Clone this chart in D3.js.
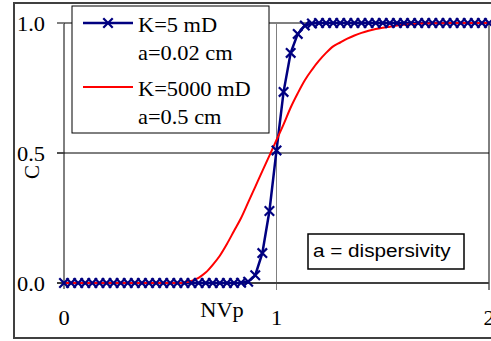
<!DOCTYPE html>
<html>
<head>
<meta charset="utf-8">
<script src="https://cdn.jsdelivr.net/npm/d3@7"></script>
<style>
  body { margin: 0; background: #fff; }
  svg { display: block; }
</style>
</head>
<body>
<div id="chart"></div>
<script>
// pore volumes injected, one point every 1/30 NVp
var nvp = [0, 0.0333, 0.0667, 0.1, 0.1333, 0.1667, 0.2, 0.2333, 0.2667, 0.3,
  0.3333, 0.3667, 0.4, 0.4333, 0.4667, 0.5, 0.5333, 0.5667, 0.6, 0.6333,
  0.6667, 0.7, 0.7333, 0.7667, 0.8, 0.8333, 0.8667, 0.9, 0.9333, 0.9667,
  1, 1.0333, 1.0667, 1.1, 1.1333, 1.1667, 1.2, 1.2333, 1.2667, 1.3,
  1.3333, 1.3667, 1.4, 1.4333, 1.4667, 1.5, 1.5333, 1.5667, 1.6, 1.6333,
  1.6667, 1.7, 1.7333, 1.7667, 1.8, 1.8333, 1.8667, 1.9, 1.9333, 1.9667, 2];

// K=5 mD, a=0.02 cm
var cLow = [0, 0, 0, 0, 0, 0, 0, 0, 0, 0,
  0, 0, 0, 0, 0, 0, 0, 0, 0, 0,
  0, 0, 0, 0, 0, 0.001, 0.005, 0.03, 0.115, 0.277,
  0.51, 0.735, 0.885, 0.958, 0.99, 0.998, 1, 1, 1, 1,
  1, 1, 1, 1, 1, 1, 1, 1, 1, 1,
  1, 1, 1, 1, 1, 1, 1, 1, 1, 1, 1];

// K=5000 mD, a=0.5 cm
var cHigh = [0, 0, 0, 0, 0, 0, 0, 0, 0, 0,
  0, 0, 0, 0, 0, 0, 0, 0.002, 0.008, 0.02,
  0.04, 0.07, 0.105, 0.15, 0.2, 0.25, 0.31, 0.37, 0.43, 0.49,
  0.55, 0.61, 0.675, 0.73, 0.78, 0.82, 0.855, 0.885, 0.91, 0.925,
  0.94, 0.952, 0.962, 0.97, 0.977, 0.982, 0.986, 0.99, 0.993, 0.995,
  0.997, 0.998, 0.999, 0.999, 1, 1, 1, 1, 1, 1, 1];

var xTicks = [0, 1, 2];
var yTicks = [0, 0.5, 1];
var legendLines = [["K=5 mD", "a=0.02 cm"], ["K=5000 mD", "a=0.5 cm"]];

var width = 491, height = 341;
var serif = "'Liberation Serif', 'Times New Roman', serif";
var sans = "'Liberation Sans', Arial, sans-serif";
var stretch = 1.12; // text in the picture is a bit wide

var svg = d3.select("#chart").append("svg")
    .attr("width", width)
    .attr("height", height);

// outer frame, cut off on the right
svg.append("rect")
    .attr("x", 14).attr("y", 3)
    .attr("width", 500).attr("height", 335)
    .attr("fill", "#fff")
    .attr("stroke", "#404040")
    .attr("stroke-width", 2);

var xScale = d3.scaleLinear().domain([0, 2]).range([64, 489]);
var yScale = d3.scaleLinear().domain([0, 1]).range([283, 23]);

function addText(x, y, str, font, size, anchor) {
  return svg.append("text")
      .attr("transform", "translate(" + x + "," + y + ") scale(" + stretch + ",1)")
      .attr("text-anchor", anchor || "start")
      .attr("font-family", font)
      .attr("font-size", size)
      .attr("fill", "#000")
      .text(str);
}

// grid
svg.append("line")
    .attr("x1", xScale(1)).attr("x2", xScale(1))
    .attr("y1", yScale(1)).attr("y2", yScale(0) + 7)
    .attr("stroke", "#808080").attr("stroke-width", 1);
svg.append("line")
    .attr("x1", 57).attr("x2", xScale(2))
    .attr("y1", yScale(0.5)).attr("y2", yScale(0.5))
    .attr("stroke", "#000").attr("stroke-width", 1);
svg.append("line")
    .attr("x1", 57).attr("x2", xScale(2))
    .attr("y1", yScale(1)).attr("y2", yScale(1))
    .attr("stroke", "#808080").attr("stroke-width", 2);

// right border of plot
svg.append("line")
    .attr("x1", xScale(2)).attr("x2", xScale(2))
    .attr("y1", yScale(1)).attr("y2", yScale(0) + 7)
    .attr("stroke", "#000").attr("stroke-width", 1);

// axes
svg.append("line")
    .attr("x1", xScale(0)).attr("x2", xScale(0))
    .attr("y1", yScale(1)).attr("y2", yScale(0) + 6)
    .attr("stroke", "#000").attr("stroke-width", 1);
svg.append("line")
    .attr("x1", 57).attr("x2", xScale(2))
    .attr("y1", yScale(0)).attr("y2", yScale(0))
    .attr("stroke", "#404040").attr("stroke-width", 2);

yTicks.forEach(function(t) {
  svg.append("line")
      .attr("x1", 57).attr("x2", xScale(0))
      .attr("y1", yScale(t)).attr("y2", yScale(t))
      .attr("stroke", t == 1 ? "#808080" : "#404040").attr("stroke-width", t == 1 ? 2 : 1.5);
  addText(45, yScale(t) + 8, d3.format(".1f")(t), serif, 20, "end");
});
xTicks.forEach(function(t) {
  addText(xScale(t), 325, String(t), serif, 20, "middle");
});

addText(222, 317, "NVp", serif, 20, "middle");
svg.append("text")
    .attr("transform", "translate(39,172) rotate(-90)")
    .attr("text-anchor", "middle")
    .attr("font-family", serif)
    .attr("font-size", 21)
    .text("C");

// series
var pts = function(vals) { return nvp.map(function(x, i) { return [x, vals[i]]; }); };
var line = d3.line()
    .x(function(d) { return xScale(d[0]); })
    .y(function(d) { return yScale(d[1]); });

svg.append("path")
    .datum(pts(cLow))
    .attr("d", line)
    .attr("fill", "none")
    .attr("stroke", "#000080")
    .attr("stroke-width", 2.5);

svg.append("path")
    .datum(pts(cHigh))
    .attr("d", d3.line().curve(d3.curveMonotoneX)
        .x(function(d) { return xScale(d[0]); })
        .y(function(d) { return yScale(d[1]); }))
    .attr("fill", "none")
    .attr("stroke", "#ff0000")
    .attr("stroke-width", 2);

var cross = d3.symbol().type(d3.symbolX).size(60);
svg.append("g").selectAll("path")
    .data(pts(cLow))
    .enter().append("path")
    .attr("transform", function(d) { return "translate(" + xScale(d[0]) + "," + yScale(d[1]) + ")"; })
    .attr("d", cross)
    .attr("fill", "none")
    .attr("stroke", "#000080")
    .attr("stroke-width", 2.2);

// legend
svg.append("rect")
    .attr("x", 72).attr("y", 6)
    .attr("width", 197).attr("height", 127)
    .attr("fill", "#fff")
    .attr("stroke", "#000").attr("stroke-width", 1);

var legendColors = ["#000080", "#ff0000"];
legendLines.forEach(function(rows, i) {
  var ly = 23 + i * 64;
  svg.append("line")
      .attr("x1", 83).attr("x2", 133)
      .attr("y1", ly).attr("y2", ly)
      .attr("stroke", legendColors[i])
      .attr("stroke-width", i == 0 ? 2.5 : 2);
  if (i == 0) {
    svg.append("path")
        .attr("transform", "translate(108," + ly + ")")
        .attr("d", cross)
        .attr("fill", "none")
        .attr("stroke", legendColors[i])
        .attr("stroke-width", 2.2);
  }
  addText(138, ly + 9, rows[0], serif, 20);
  addText(138, ly + 37, rows[1], serif, 20);
});

// note box
svg.append("rect")
    .attr("x", 308).attr("y", 234)
    .attr("width", 156).attr("height", 35)
    .attr("fill", "#fff")
    .attr("stroke", "#000").attr("stroke-width", 1.5);
addText(313, 257, "a = dispersivity", sans, 18.5);
</script>
</body>
</html>
